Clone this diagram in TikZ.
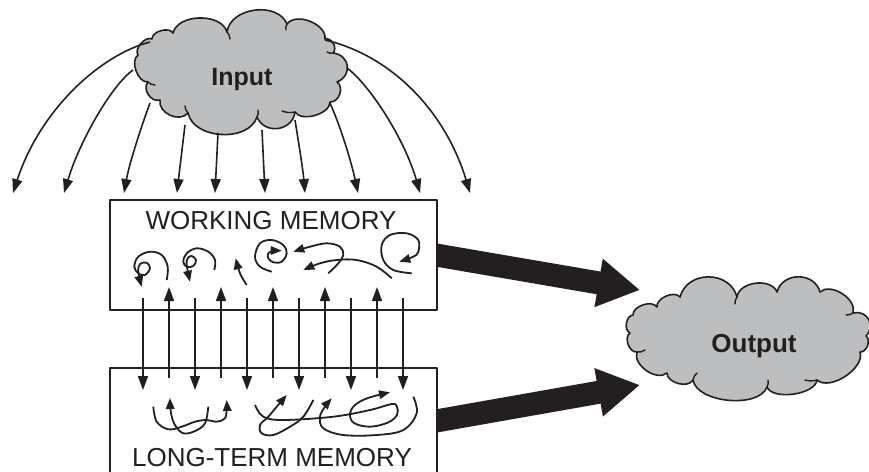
\documentclass[tikz,border=0pt]{standalone}
\usepackage{fontspec}
\setmainfont{Liberation Sans}
\usetikzlibrary{arrows.meta}
\definecolor{cloudgray}{RGB}{188,190,192}
\definecolor{ink}{RGB}{35,31,32}
\begin{document}
\begin{tikzpicture}[x=1pt,y=-1pt,
  line join=round,
  color=ink,
  puff/.style={bend left=75,looseness=#1},
  cloudline/.style={draw=ink,line width=1.6pt,fill=cloudgray},
  crease/.style={draw=ink,line width=1.4pt,line cap=round},
  thinarrow/.style={draw=ink,line width=1.6pt,-{Triangle[length=14pt,width=10pt]}},
  swirl/.style={draw=ink,line width=1.8pt,-{Triangle[length=11pt,width=8.5pt]}},
  bigarrow/.style={draw=ink,line width=23pt,-{Triangle[length=42pt,width=46pt]}},
  membox/.style={draw=ink,fill=white,line width=1.6pt,inner sep=0pt},
  boxlabel/.style={text=ink,font=\fontsize{26}{26}\selectfont,anchor=base},
  cloudlabel/.style={text=ink,font=\bfseries\fontsize{25}{25}\selectfont,anchor=base}]
\useasboundingbox (0,0) rectangle (869,471);
\clip (0,0) rectangle (869,471);

% ---- input cloud ----
\path[cloudline] (138,55) to[puff=0.9] (152,39) to[puff=0.9] (173,33)
  to[puff=0.95] (227,32) to[puff=1.05] (287,24) to[puff=0.95] (325,39)
  to[puff=1.1] (333,53) to[puff=1.5] (337,82) to[puff=1.1] (330,102)
  to[puff=0.85] (295,112) to[puff=1.3] (257,117) to[puff=1.0] (188,113)
  to[puff=1.1] (160,100) to[puff=1.1] (148,82) to[puff=0.9] cycle;
\draw[crease] (227,32) to[bend left=20] (230,39);
\draw[crease] (287,24) to[bend right=20] (286,30);
\draw[crease] (295,112) to[bend left=15] (282,111);
\draw[crease] (257,117) to[bend right=20] (258,110);
\draw[crease] (188,113) to[bend left=20] (185,106);
\draw[crease] (148,82) to[bend right=20] (155,85);
\draw[crease] (333,53) to[bend left=20] (327,52);
\node[cloudlabel] (inlabel) at (242,85) {Input};

% ---- output cloud ----
\path[cloudline] (633,315) to[puff=0.9] (657,307) to[puff=0.9] (680,297)
  to[puff=1.25] (737,297) to[puff=1.0] (777,292) to[puff=1.25] (820,292)
  to[puff=0.95] (853,313) to[puff=1.4] (866,336) to[puff=1.0] (860,352)
  to[puff=0.85] (817,380) to[puff=0.75] (767,387) to[puff=0.8] (693,380)
  to[puff=0.95] (667,373) to[puff=0.95] (637,352) to[puff=1.0] (630,333)
  to[puff=1.0] cycle;
\draw[crease] (737,297) to[bend right=20] (735,304);
\draw[crease] (853,313) to[bend left=20] (846,315);
\draw[crease] (817,380) to[bend left=15] (805,380);
\draw[crease] (767,387) to[bend right=20] (768,380);
\draw[crease] (693,380) to[bend left=20] (697,373);
\draw[crease] (637,352) to[bend right=20] (645,350);
\node[cloudlabel,font=\bfseries\fontsize{26}{26}\selectfont] (outlabel) at (754,352) {Output};

% ---- thick arrows to the output ----
\coordinate (wmout) at (436,255);
\coordinate (ltmout) at (436,421);
\coordinate (outa) at (640,290);
\coordinate (outb) at (640,385);
\draw[bigarrow] (wmout) -- (outa);
\draw[bigarrow] (ltmout) -- (outb);

% ---- memory boxes ----
\node[membox,minimum width=327pt,minimum height=110pt] (wm) at (273.5,255) {};
\node[membox,minimum width=327pt,minimum height=130pt] (ltm) at (273.5,433) {};
\node[boxlabel] (wmlabel) at (271,229) {WORKING MEMORY};
\node[boxlabel] (ltmlabel) at (272,466) {LONG-TERM MEMORY};

% ---- arrows from the input cloud ----
\coordinate (i1s) at (150,42);  \coordinate (i1e) at (13,193);
\coordinate (i2s) at (133,70);  \coordinate (i2e) at (64,193);
\coordinate (i3s) at (150,103); \coordinate (i3e) at (124,193);
\coordinate (i4s) at (185,125); \coordinate (i4e) at (177,193);
\coordinate (i5s) at (218,133); \coordinate (i5e) at (215,193);
\coordinate (i6s) at (262,130); \coordinate (i6e) at (265,193);
\coordinate (i7s) at (295,120); \coordinate (i7e) at (305,193);
\coordinate (i8s) at (330,103); \coordinate (i8e) at (358,193);
\coordinate (i9s) at (347,68);  \coordinate (i9e) at (420,193);
\coordinate (i10s) at (325,40); \coordinate (i10e) at (470,193);
\draw[thinarrow] (i1s) .. controls (100,55) and (40,110) .. (i1e);
\draw[thinarrow] (i2s) .. controls (112,85) and (80,140) .. (i2e);
\draw[thinarrow] (i3s) .. controls (140,130) and (129,165) .. (i3e);
\draw[thinarrow] (i4s) .. controls (182,150) and (179,175) .. (i4e);
\draw[thinarrow] (i5s) -- (i5e);
\draw[thinarrow] (i6s) -- (i6e);
\draw[thinarrow] (i7s) .. controls (299,145) and (303,170) .. (i7e);
\draw[thinarrow] (i8s) .. controls (342,130) and (352,165) .. (i8e);
\draw[thinarrow] (i9s) .. controls (370,85) and (405,140) .. (i9e);
\draw[thinarrow] (i10s) .. controls (390,55) and (445,110) .. (i10e);

% ---- traffic between the two memories ----
\foreach \x [count=\k] in {143,195,247,299,351,403} {
  \coordinate (dn\k s) at (\x,298);
  \coordinate (dn\k e) at (\x,390);
  \draw[thinarrow] (dn\k s) -- (dn\k e);
}
\foreach \x [count=\k] in {169,221,273,325,377} {
  \coordinate (up\k s) at (\x,378);
  \coordinate (up\k e) at (\x,287);
  \draw[thinarrow] (up\k s) -- (up\k e);
}

% ---- activity inside working memory ----
\draw[swirl] plot[smooth,tension=0.6] coordinates {(166.7,280) (167.7,266.7) (161.7,255) (150,251.7) (138.3,256.7) (134.3,266.7) (138.3,273.3) (145,275) (150,268.3) (146.7,262.7) (140,264) (138.3,271.7) (141.7,286.7)};
\draw[swirl] plot[smooth,tension=0.6] coordinates {(214.3,270) (215,260) (208.3,251.7) (196.7,248.3) (186.7,253.3) (183.3,261.7) (186.7,266.7) (193.3,266) (196,260) (191.7,256) (187.7,258.3) (186.7,265) (190,281.7)};
\draw[swirl] plot[smooth,tension=0.6] coordinates {(246.7,285) (240,273.3) (235.7,258.3)};
\draw[swirl] plot[smooth,tension=0.6] coordinates {(271.7,271.7) (260,266.7) (255,256.7) (260,243.3) (271.7,240) (283.3,245) (286.7,253.3) (281.7,261.7) (273.3,262.3) (268.3,258.3) (268.3,253.3) (273.3,251) (281.7,250.7)};
\draw[swirl] plot[smooth,tension=0.6] coordinates {(328.3,273.3) (338.3,263.3) (343.3,255) (340,246.7) (326.7,243.3) (310,246.7) (293.3,251.7)};
\draw[swirl] plot[smooth,tension=0.6] coordinates {(391.7,278.3) (376.7,266.7) (356.7,260) (336.7,260) (320,263.3) (303.3,270)};
\draw[swirl] plot[smooth,tension=0.6] coordinates {(411.7,273.3) (393.3,270) (383.3,260) (381.7,245) (390,235) (406.7,233.3) (418.3,240) (418.3,251.7) (413.3,256.7) (399.3,261.7)};

% ---- activity inside long-term memory ----
\draw[swirl] plot[smooth,tension=0.6] coordinates {(153.3,406.7) (156.7,421.7) (168.3,429.3) (181.7,426.7) (195,421.7) (206.7,420) (216.7,421.7) (225,418.3) (226.7,408.3) (226.7,400)};
\draw[swirl] plot[smooth,tension=0.6] coordinates {(208.3,406.7) (205,423.3) (195,431) (183.3,433.3) (175,425) (171,413) (170,398)};
\draw[swirl] plot[smooth,tension=0.6] coordinates {(313.3,400) (303.3,416.7) (290,426.7) (273.3,435) (261.7,433.3) (260,425) (268.3,416.7) (276.7,406.7) (286.7,395)};
\draw[swirl] plot[smooth,tension=0.6] coordinates {(255,405) (263.3,416.7) (283.3,420) (333.3,416.7) (370,410) (392,404) (397,407) (397,415) (388,422.5) (370,426.7) (354,423) (350,414) (355,405) (368,398) (390,392.3)};
\draw[swirl] plot[smooth,tension=0.6] coordinates {(413.3,396.7) (416.7,413.3) (403.3,430) (376.7,435) (343.3,435) (323.3,428.3) (320,416.7) (325,406.7) (331.7,398.3)};
\end{tikzpicture}
\end{document}
